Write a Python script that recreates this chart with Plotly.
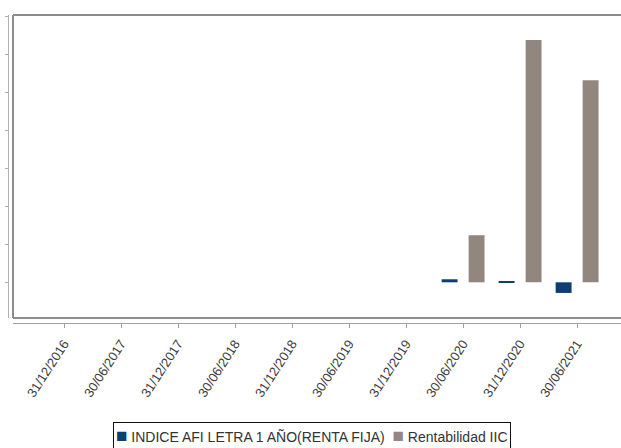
import plotly.graph_objects as go

# Half-year reporting dates (x categories)
fechas = ["31/12/2016", "30/06/2017", "31/12/2017", "30/06/2018", "31/12/2018",
          "30/06/2019", "31/12/2019", "30/06/2020", "31/12/2020", "30/06/2021"]

# Returns per period (%); periods without data are left empty
indice_afi = [None, None, None, None, None, None, None, 0.04, 0.01, -0.14]
rentabilidad_iic = [None, None, None, None, None, None, None, 0.62, 3.19, 2.66]

serie_nombres = ["INDICE AFI LETRA 1 AÑO(RENTA FIJA)", "Rentabilidad IIC"]
serie_colores = ["#0f3e70", "#91877e"]

W, H = 621, 448
# plot-area edges in pixels
left_px, top_px, bottom_px = 13, 15, 318
yaxis_px, xaxis_px = 8, 323

fig = go.Figure()
for nombre, color, valores in zip(serie_nombres, serie_colores, [indice_afi, rentabilidad_iic]):
    fig.add_trace(go.Bar(x=fechas, y=valores, name=nombre, showlegend=False,
                         marker=dict(color=color, line=dict(width=0))))

y0 = (H - bottom_px) / H
y1 = (H - top_px) / H
x0 = left_px / W

fig.update_layout(
    width=W, height=H,
    margin=dict(l=0, r=0, t=0, b=0, autoexpand=False),
    paper_bgcolor="white", plot_bgcolor="white",
    barmode="group", bargap=0.053, bargroupgap=0.41,
    font=dict(family="Liberation Sans, Arial, sans-serif", size=12, color="#444"),
    xaxis=dict(
        type="category", domain=[x0, 1], range=[-0.895, 9.77],
        anchor="free", position=(H - xaxis_px) / H, automargin=False,
        showline=True, linecolor="#a0a0a0", linewidth=1,
        ticks="outside", ticklen=4, tickcolor="#a0a0a0",
        tickangle=-57, showgrid=False, zeroline=False,
        ticklabelstandoff=3,
        tickfont=dict(size=13, color="#3c3c3c"),
    ),
    yaxis=dict(
        domain=[y0, y1], range=[-0.47, 3.52],
        anchor="free", position=yaxis_px / W, automargin=False,
        showline=True, linecolor="#b0b0b0", linewidth=1,
        ticks="outside", ticklen=3, tickcolor="#b0b0b0",
        dtick=0.5, tick0=0, showticklabels=False,
        showgrid=False, zeroline=False,
    ),
    showlegend=False,
)

# frame around the plotting area (left, top, bottom edges; right edge lies off-canvas)
frame_col = "#8c8c8c"
fig.add_shape(type="line", xref="paper", yref="paper", x0=x0, x1=x0, y0=y0, y1=y1,
              line=dict(color=frame_col, width=2))
fig.add_shape(type="line", xref="paper", yref="paper", x0=x0, x1=1.01, y0=y1, y1=y1,
              line=dict(color=frame_col, width=2))
fig.add_shape(type="line", xref="paper", yref="paper", x0=x0, x1=1.01, y0=y0, y1=y0,
              line=dict(color=frame_col, width=2))

# boxed legend line below the axis
leyenda = "&nbsp;&nbsp;".join(
    f'<span style="color:{c};font-size:19px">■</span>&nbsp;{n}'
    for n, c in zip(serie_nombres, serie_colores)
)
fig.add_annotation(
    text=leyenda, xref="paper", yref="paper", x=312 / W, y=(H - 435) / H,
    xanchor="center", yanchor="middle", showarrow=False,
    font=dict(size=14, color="#333"),
    bordercolor="#111", borderwidth=1, borderpad=2, bgcolor="white",
)

fig.write_html("out.html")
